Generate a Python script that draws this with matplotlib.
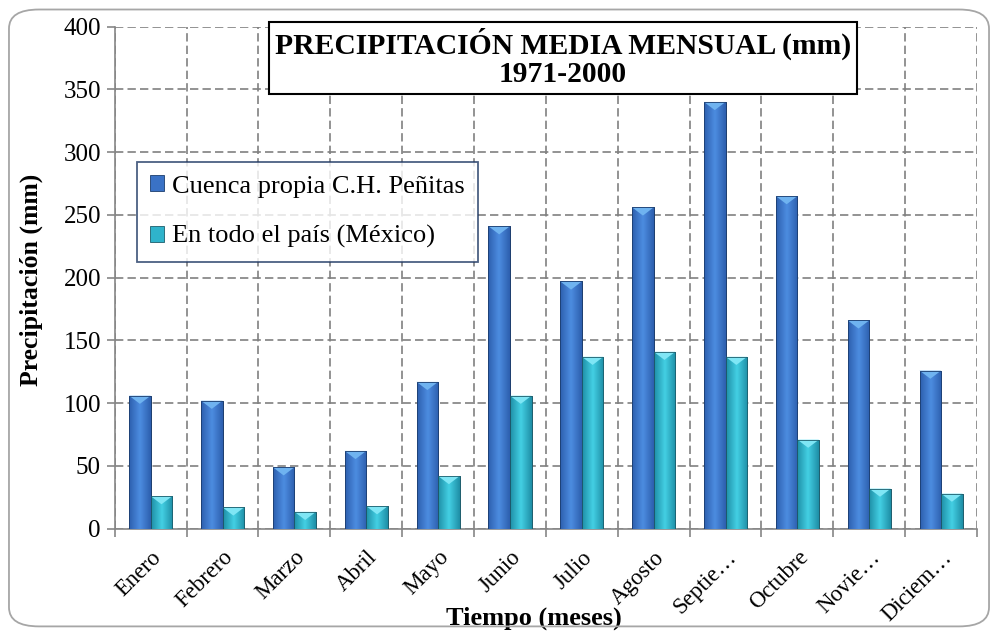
import matplotlib
matplotlib.use("Agg")
import matplotlib.pyplot as plt
import matplotlib.transforms as mtransforms
import numpy as np
from matplotlib.patches import FancyBboxPatch, Polygon
from matplotlib.colors import LinearSegmentedColormap

meses = ["Enero", "Febrero", "Marzo", "Abril", "Mayo", "Junio", "Julio",
         "Agosto", "Septie…", "Octubre", "Novie…", "Diciem…"]
cuenca = [106, 102, 49, 62, 117, 241, 197, 256, 340, 265, 166, 126]
pais = [26, 17, 13.5, 18, 42, 106, 137, 141, 137, 71, 32, 28]

plt.rcParams["font.family"] = ["Liberation Serif", "DejaVu Serif"]

fig = plt.figure(figsize=(9.98, 6.34), dpi=100)
ax = fig.add_axes([0.115, 0.166, 0.864, 0.792])

# rounded border round the whole chart
fig.patches.append(FancyBboxPatch((0.009, 0.012), 0.982, 0.973,
                                  boxstyle="round,pad=0,rounding_size=0.03",
                                  transform=fig.transFigure, fill=False,
                                  edgecolor="#a6a6a6", linewidth=1.3))

x = np.arange(len(meses))
w = 0.3
b1 = ax.bar(x - w / 2, cuenca, w, color="#3a72c6", edgecolor="#1c3d6e", linewidth=0.6,
            label="Cuenca propia C.H. Peñitas", zorder=3)
b2 = ax.bar(x + w / 2, pais, w, color="#2fb3cb", edgecolor="#1d5d6c", linewidth=0.6,
            label="En todo el país (México)", zorder=3)

ax.set_xlim(-0.5, len(meses) - 0.5)
ax.set_ylim(0, 400)

# shaded look of the bars: side gradient plus light bevel on top
grad = np.abs(np.linspace(-1, 1, 64))[None, :]
shades = [(b1, ["#4c8ce0", "#2d5fae"], "#6fb3f0"),
          (b2, ["#43cfe3", "#1e8ea6"], "#7fe6f5")]
for bars, cols, top in shades:
    cmap = LinearSegmentedColormap.from_list("g", cols)
    for p in bars:
        x0, w0, h0 = p.get_x(), p.get_width(), p.get_height()
        im = ax.imshow(grad, cmap=cmap, aspect="auto", extent=(x0, x0 + w0, 0, h0),
                       zorder=3.5, interpolation="bicubic")
        im.set_clip_path(p)
        d = min(6.5, h0 / 2)
        ax.add_patch(Polygon([(x0, h0), (x0 + w0, h0), (x0 + w0 / 2, h0 - d)],
                             closed=True, facecolor=top, edgecolor="none", zorder=3.6))
        ax.add_patch(plt.Rectangle((x0, 0), w0, h0, fill=False,
                                   edgecolor=p.get_edgecolor(), linewidth=0.6, zorder=3.7))

ax.set_yticks(range(0, 401, 50))
ax.set_xticks(x)
ax.set_xticklabels(meses, rotation=45, ha="right", rotation_mode="anchor")
shift = mtransforms.ScaledTranslation(-4 / 100, 0, fig.dpi_scale_trans)
for lbl in ax.get_xticklabels():
    lbl.set_transform(lbl.get_transform() + shift)
ax.set_xticks(np.arange(-0.5, len(meses)), minor=True)
ax.tick_params(axis="x", which="major", length=0, labelsize=16.5, pad=13)
ax.tick_params(axis="x", which="minor", length=6, color="#868686", width=1.2)
ax.tick_params(axis="y", length=6, color="#868686", width=1.2, labelsize=18, pad=4)

ax.grid(True, which="minor", axis="x", color="#808080", linestyle=(0, (5, 2.5)), linewidth=1.2)
ax.grid(True, which="major", axis="y", color="#808080", linestyle=(0, (5, 2.5)), linewidth=1.2)
ax.set_axisbelow(True)
for s in ["top", "right"]:
    ax.spines[s].set_visible(False)
for s in ["left", "bottom"]:
    ax.spines[s].set_color("#868686")
    ax.spines[s].set_linewidth(1.2)

ax.set_ylabel("Precipitación (mm)", fontsize=18.5, fontweight="bold")
ax.yaxis.set_label_coords(-0.0835, 0.495)
ax.set_xlabel("Tiempo (meses)", fontsize=19, fontweight="bold")
ax.xaxis.set_label_coords(0.486, -0.155)

ax.text(0.52, 0.937, "PRECIPITACIÓN MEDIA MENSUAL (mm)\n1971-2000", transform=ax.transAxes,
        ha="center", va="center", fontsize=21.3, fontweight="bold", linespacing=1.05, zorder=5,
        bbox=dict(boxstyle="square,pad=0.2", facecolor="white", edgecolor="black", linewidth=1.5))

leg = ax.legend(loc="upper left", bbox_to_anchor=(0.0255, 0.73), borderaxespad=0,
                fontsize=19, frameon=True, fancybox=False, labelspacing=1.05,
                handlelength=0.55, handleheight=0.55, handletextpad=0.3, borderpad=0.5)
leg.get_frame().set_edgecolor("#1f3864")
leg.get_frame().set_linewidth(1.3)
leg.set_zorder(6)

fig.savefig("out.png", dpi=100)
